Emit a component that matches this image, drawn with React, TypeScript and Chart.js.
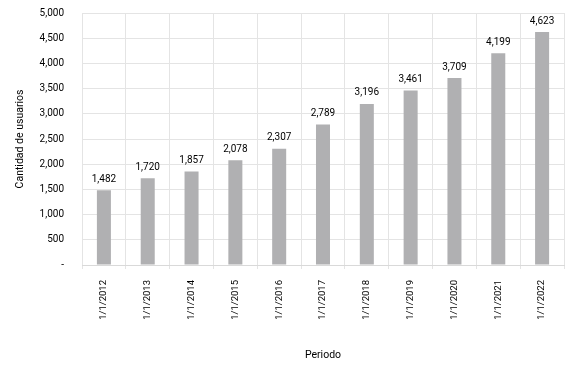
import React, { useEffect, useRef } from "react";
import { Chart, registerables } from "chart.js";

Chart.register(...registerables);

const categories = [
  "1/1/2012", "1/1/2013", "1/1/2014", "1/1/2015", "1/1/2016", "1/1/2017",
  "1/1/2018", "1/1/2019", "1/1/2020", "1/1/2021", "1/1/2022",
];
const usuarios = [1482, 1720, 1857, 2078, 2307, 2789, 3196, 3461, 3709, 4199, 4623];
const yTitle = "Cantidad de usuarios";
const xTitle = "Periodo";

const FONT = "Roboto";

const valueLabels = {
  id: "valueLabels",
  afterDatasetsDraw(chart: any) {
    const ctx = chart.ctx;
    const meta = chart.getDatasetMeta(0);
    ctx.save();
    ctx.font = `10px ${FONT}`;
    ctx.fillStyle = "#000";
    ctx.textAlign = "center";
    ctx.textBaseline = "bottom";
    meta.data.forEach((bar: any, i: number) => {
      const v = chart.data.datasets[0].data[i] as number;
      ctx.fillText(v.toLocaleString("en-US"), bar.x, bar.y - 6);
    });
    ctx.restore();
  },
};

export default function App() {
  const ref = useRef<HTMLCanvasElement | null>(null);
  useEffect(() => {
    const chart = new Chart(ref.current!, {
      type: "bar",
      data: {
        labels: categories,
        datasets: [
          {
            data: usuarios,
            backgroundColor: "#b0b0b2",
            barPercentage: 0.32,
            categoryPercentage: 1,
          },
        ],
      },
      options: {
        animation: false,
        responsive: false,
        layout: { padding: { left: 14, right: 10, top: 13, bottom: 0 } },
        plugins: { legend: { display: false }, tooltip: { enabled: false } },
        scales: {
          x: {
            afterFit: (s: any) => {
              s.height = 102;
              s.paddingTop = 0;
              s.paddingBottom = 0;
            },
            grid: { color: "#e4e4e4", tickLength: 4, offset: true },
            border: { color: "#d9d9d9" },
            ticks: {
              color: "#000",
              font: { family: FONT, size: 9.5 },
              maxRotation: 90,
              minRotation: 90,
              padding: 11,
            },
            title: {
              display: true,
              text: xTitle,
              color: "#000",
              font: { family: FONT, size: 10.5 },
              padding: { top: 0, bottom: 5 },
            },
          },
          y: {
            min: 0,
            max: 5000,
            afterFit: (s: any) => {
              s.width = 68;
              s.paddingTop = 0;
              s.paddingBottom = 0;
            },
            grid: { color: "#e4e4e4", drawTicks: false },
            border: { display: false },
            ticks: {
              stepSize: 500,
              color: "#000",
              font: { family: FONT, size: 10 },
              padding: 18,
              callback: (v: any) => (v === 0 ? "-" : Number(v).toLocaleString("en-US")),
            },
            title: {
              display: true,
              text: yTitle,
              color: "#000",
              font: { family: FONT, size: 10.5 },
              padding: { top: 0, bottom: 0 },
            },
          },
        },
      },
      plugins: [valueLabels],
    });
    return () => chart.destroy();
  }, []);
  return (
    <div style={{ position: "fixed", left: 0, top: 0, width: 574, height: 367 }}>
      <canvas ref={ref} width={574} height={367} />
    </div>
  );
}
